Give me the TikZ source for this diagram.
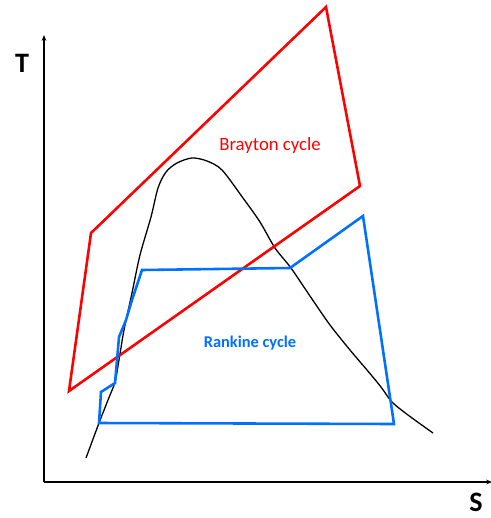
\documentclass[tikz,border=0pt]{standalone}
\usepackage{fontspec}
\setmainfont{Carlito}
\usetikzlibrary{arrows.meta}

\definecolor{braytonred}{RGB}{255,0,0}
\definecolor{rankineblue}{RGB}{0,112,255}

\begin{document}
\begin{tikzpicture}[x=0.03cm, y=-0.03cm]

  \useasboundingbox (0,0) rectangle (491,518);

  % Axes
  \coordinate (O) at (44,482);
  \coordinate (Ttop) at (44,35);
  \coordinate (Send) at (492,482);
  \draw[line width=1pt, -{Stealth[length=5pt,width=4pt]}] (O) -- (Ttop);
  \draw[line width=1pt, -{Stealth[length=5pt,width=4pt]}] (O) -- (Send);
  \node[inner sep=0pt, font=\bfseries\fontsize{24}{28}\selectfont] (T) at (22,63) {T};
  \node[inner sep=0pt, font=\bfseries\fontsize{24}{28}\selectfont] (S) at (476,502) {S};

  % Saturation dome
  \draw[line width=1.1pt, black] plot[smooth, tension=0.5] coordinates {
    (86,458) (99,423) (108,400) (115,382) (119,360) (124,330) (132,293)
    (140,255) (151,217) (158,188) (166,172) (177,163) (192,158) (207,161)
    (222,170) (243,198) (260,222) (275,248) (291,268) (312,299) (330,325)
    (350,350) (367,370) (381,387) (392,402) (408,415) (433,433)};

  % Brayton cycle
  \coordinate (B1) at (69,391);
  \coordinate (B2) at (91,233);
  \coordinate (B3) at (326,7);
  \coordinate (B4) at (360,186);
  \draw[line width=2.2pt, braytonred, line join=miter] (B1) -- (B2) -- (B3) -- (B4) -- cycle;
  \node[text=braytonred, font=\fontsize{16}{19}\selectfont] (brayton) at (270,145) {Brayton cycle};

  % Rankine cycle
  \coordinate (R1) at (99,423);
  \coordinate (R2) at (394,424);
  \coordinate (R3) at (363,216);
  \coordinate (R4) at (290,268);
  \coordinate (R5) at (142,270);
  \draw[line width=2.2pt, rankineblue, line join=miter]
    (R1) -- (R2) -- (R3) -- (R4) -- (R5) -- (132,300) -- (126,320) -- (119,337)
    -- (115,383) -- (101,392) -- cycle;
  \node[text=rankineblue, font=\bfseries\fontsize{14}{17}\selectfont] (rankine) at (250,343) {Rankine cycle};

\end{tikzpicture}
\end{document}
